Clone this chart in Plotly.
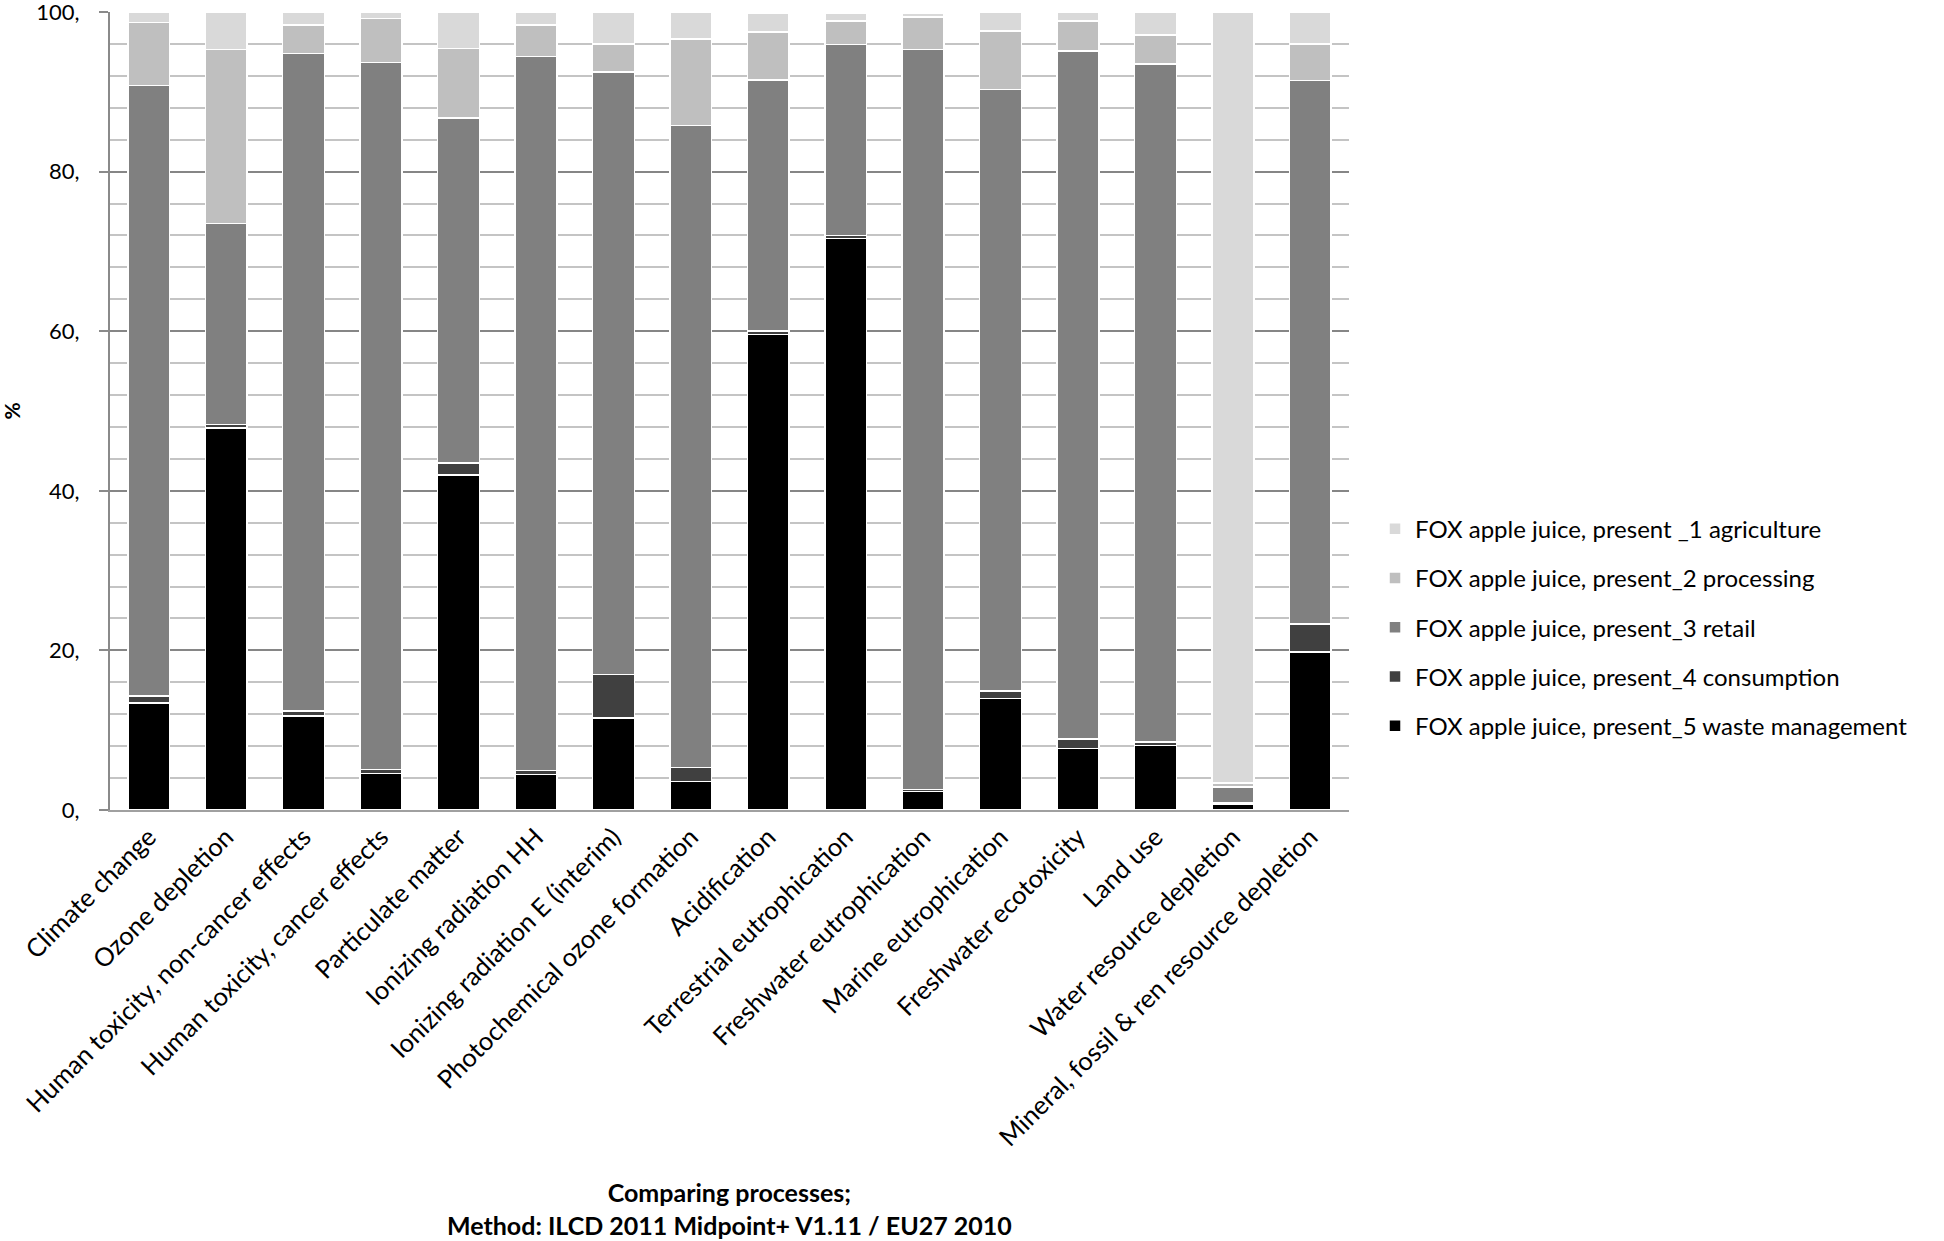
import plotly.graph_objects as go

categories = [
    "Climate change", "Ozone depletion", "Human toxicity, non-cancer effects",
    "Human toxicity, cancer effects", "Particulate matter", "Ionizing radiation HH",
    "Ionizing radiation E (interim)", "Photochemical ozone formation", "Acidification",
    "Terrestrial eutrophication", "Freshwater eutrophication", "Marine eutrophication",
    "Freshwater ecotoxicity", "Land use", "Water resource depletion",
    "Mineral, fossil & ren resource depletion",
]

waste_management = [13.4, 47.9, 11.8, 4.6, 42.0, 4.45, 11.5, 3.6, 59.6, 71.6, 2.3, 14.0, 7.7, 8.1, 0.7, 19.8]
consumption = [0.9, 0.4, 0.6, 0.5, 1.5, 0.5, 5.5, 1.7, 0.4, 0.4, 0.3, 0.9, 1.2, 0.4, 0.2, 3.5]
retail = [76.5, 25.2, 82.4, 88.6, 43.2, 89.5, 75.5, 80.5, 31.5, 23.9, 92.7, 75.4, 86.2, 85.0, 2.0, 68.1]
processing = [7.9, 21.8, 3.6, 5.5, 8.7, 3.9, 3.5, 10.8, 6.0, 3.0, 4.1, 7.3, 3.8, 3.6, 0.5, 4.6]
agriculture = [1.3, 4.7, 1.6, 0.75, 4.6, 1.6, 4.0, 3.4, 2.4, 1.0, 0.5, 2.4, 1.1, 2.9, 96.6, 4.0]

series_names = [
    "FOX apple juice, present_5 waste management",
    "FOX apple juice, present_4 consumption",
    "FOX apple juice, present_3 retail",
    "FOX apple juice, present_2 processing",
    "FOX apple juice, present _1 agriculture",
]
series_values = [waste_management, consumption, retail, processing, agriculture]
series_colors = ["#000000", "#404040", "#808080", "#bfbfbf", "#d9d9d9"]
legend_ranks = [5, 4, 3, 2, 1]

y_tickvals = [0, 20, 40, 60, 80, 100]
y_ticktext = ["0,", "20,", "40,", "60,", "80,", "100,"]

FONT = "Lato"

fig = go.Figure()
for name, vals, col, rank in zip(series_names, series_values, series_colors, legend_ranks):
    fig.add_trace(go.Bar(
        x=categories, y=vals, name=name, legendgroup=name, legendrank=rank,
        marker=dict(color=col, line=dict(color="white", width=1.5)),
    ))

fig.update_layout(
    width=1944, height=1241,
    barmode="stack", bargap=0.46,
    plot_bgcolor="white", paper_bgcolor="white",
    margin=dict(l=110, r=595, t=12, b=431),
    font=dict(family=FONT, size=22, color="#000000"),
    showlegend=True,
    legend=dict(
        traceorder="grouped", tracegroupgap=15,
        x=1.021, xanchor="left", y=0.229, yanchor="middle",
        font=dict(family=FONT, size=24, color="#000000"),
        itemwidth=30,
    ),
    xaxis=dict(
        tickangle=-45, showgrid=False, showline=True, linecolor="#a0a0a0", linewidth=2,
        tickfont=dict(family=FONT, size=25.5, color="#000000"), ticks="", automargin=False,
    ),
    yaxis=dict(
        range=[0, 100], tickvals=y_tickvals, ticktext=y_ticktext,
        showgrid=True, gridcolor="#868686", gridwidth=2,
        minor=dict(dtick=4, tick0=0, showgrid=True, gridcolor="#c4c4c4", gridwidth=2),
        showline=True, linecolor="#8a8a8a", linewidth=2,
        ticks="outside", ticklen=9, tickcolor="#8a8a8a", tickwidth=2,
        ticklabelstandoff=15,
        tickfont=dict(family=FONT, size=22, color="#000000"), zeroline=False,
        automargin=False, ticklabeloverflow="allow",
    ),
    annotations=[
        dict(text="<b>Comparing processes;<br>Method: ILCD 2011 Midpoint+ V1.11 / EU27 2010</b>",
             xref="paper", yref="paper", x=0.5, y=-0.499, xanchor="center", yanchor="middle",
             showarrow=False, font=dict(family=FONT, size=25, color="#000000")),
        dict(text="<b>%</b>", xref="paper", yref="paper", x=-0.0795, y=0.5,
             xanchor="center", yanchor="middle", textangle=-90, showarrow=False,
             font=dict(family=FONT, size=21, color="#000000")),
    ],
)

fig.write_html(
    "out.html",
    config={"displayModeBar": False},
    post_script="document.body.style.margin='0';document.body.style.overflow='hidden';",
)
